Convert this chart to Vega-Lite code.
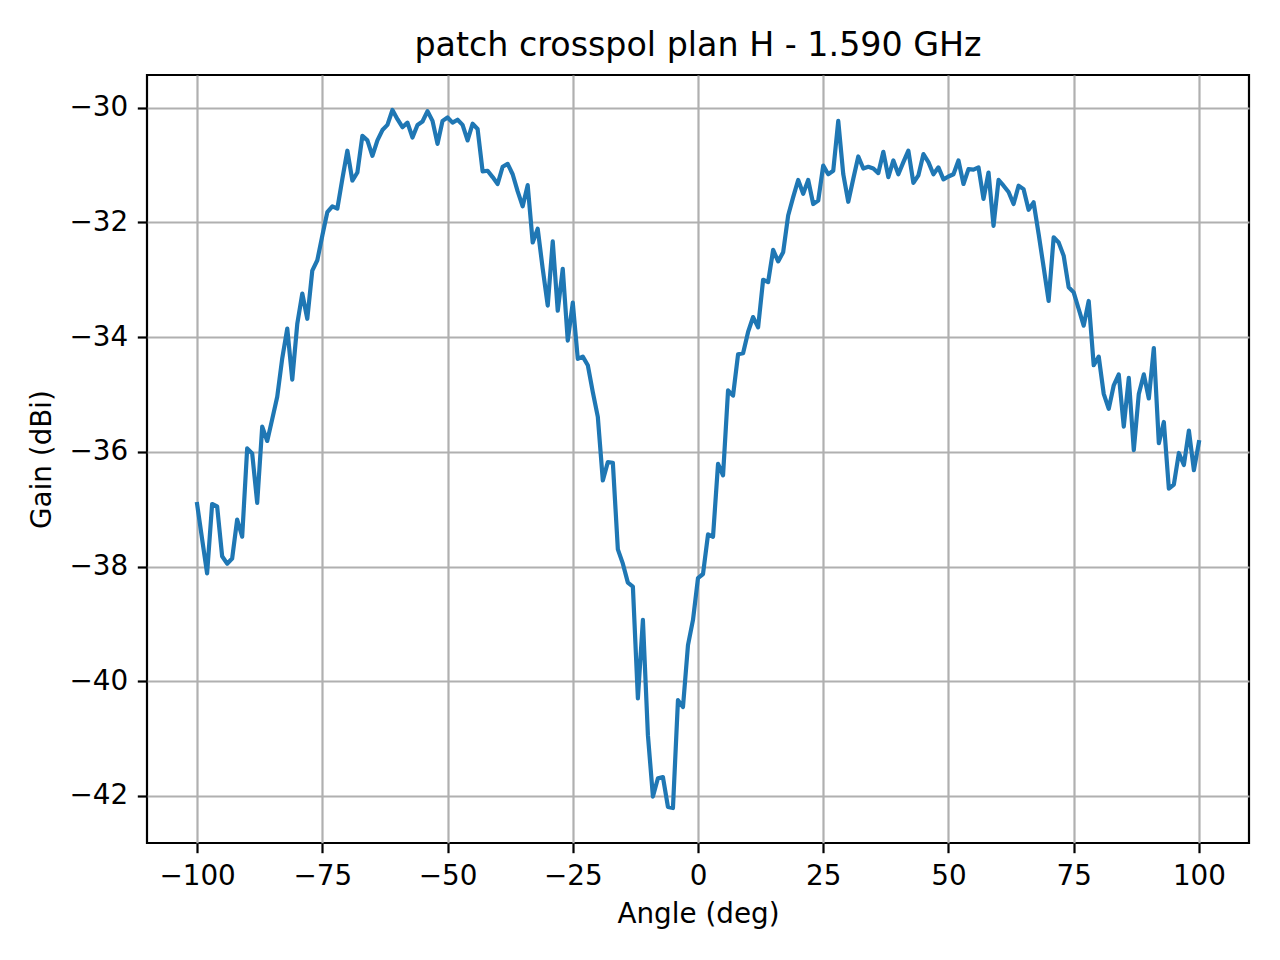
{
  "$schema": "https://vega.github.io/schema/vega-lite/v6.json",
  "autosize": {"type": "none"},
  "padding": {"left": 147, "top": 75, "right": 31, "bottom": 117},
  "width": 1102,
  "height": 768,
  "background": "white",
  "title": {
    "text": "patch crosspol plan H - 1.590 GHz",
    "font": "DejaVu Sans",
    "fontSize": 33.3,
    "fontWeight": "normal",
    "color": "black",
    "baseline": "alphabetic",
    "offset": -14
  },
  "config": {
    "view": {"stroke": "black", "strokeWidth": 2.2},
    "axis": {
      "labelFont": "DejaVu Sans",
      "labelFontSize": 27.8,
      "labelColor": "black",
      "titleFont": "DejaVu Sans",
      "titleFontSize": 27.8,
      "titleFontWeight": "normal",
      "titleColor": "black",
      "tickColor": "black",
      "tickSize": 9.7,
      "tickWidth": 2.2,
      "labelPadding": 9.7,
      "domain": false,
      "grid": true,
      "gridColor": "#b0b0b0",
      "gridWidth": 2.2
    }
  },
  "data": {
    "values": [
      {"angle": -100, "gain": -36.91}, {"angle": -99, "gain": -37.52}, {"angle": -98, "gain": -38.12},
      {"angle": -97, "gain": -36.91}, {"angle": -96, "gain": -36.95}, {"angle": -95, "gain": -37.82},
      {"angle": -94, "gain": -37.95}, {"angle": -93, "gain": -37.86}, {"angle": -92, "gain": -37.18},
      {"angle": -91, "gain": -37.48}, {"angle": -90, "gain": -35.94}, {"angle": -89, "gain": -36.03},
      {"angle": -88, "gain": -36.89}, {"angle": -87, "gain": -35.56}, {"angle": -86, "gain": -35.81},
      {"angle": -85, "gain": -35.43}, {"angle": -84, "gain": -35.04}, {"angle": -83, "gain": -34.37},
      {"angle": -82, "gain": -33.85}, {"angle": -81, "gain": -34.74}, {"angle": -80, "gain": -33.77},
      {"angle": -79, "gain": -33.24}, {"angle": -78, "gain": -33.68}, {"angle": -77, "gain": -32.84},
      {"angle": -76, "gain": -32.66}, {"angle": -75, "gain": -32.23}, {"angle": -74, "gain": -31.82},
      {"angle": -73, "gain": -31.72}, {"angle": -72, "gain": -31.76}, {"angle": -71, "gain": -31.24},
      {"angle": -70, "gain": -30.75}, {"angle": -69, "gain": -31.27}, {"angle": -68, "gain": -31.13},
      {"angle": -67, "gain": -30.49}, {"angle": -66, "gain": -30.57}, {"angle": -65, "gain": -30.84},
      {"angle": -64, "gain": -30.57}, {"angle": -63, "gain": -30.39}, {"angle": -62, "gain": -30.3},
      {"angle": -61, "gain": -30.04}, {"angle": -60, "gain": -30.2}, {"angle": -59, "gain": -30.34},
      {"angle": -58, "gain": -30.26}, {"angle": -57, "gain": -30.52}, {"angle": -56, "gain": -30.3},
      {"angle": -55, "gain": -30.24}, {"angle": -54, "gain": -30.06}, {"angle": -53, "gain": -30.23},
      {"angle": -52, "gain": -30.63}, {"angle": -51, "gain": -30.23}, {"angle": -50, "gain": -30.17},
      {"angle": -49, "gain": -30.26}, {"angle": -48, "gain": -30.21}, {"angle": -47, "gain": -30.3},
      {"angle": -46, "gain": -30.57}, {"angle": -45, "gain": -30.28}, {"angle": -44, "gain": -30.37},
      {"angle": -43, "gain": -31.11}, {"angle": -42, "gain": -31.1}, {"angle": -41, "gain": -31.21},
      {"angle": -40, "gain": -31.33}, {"angle": -39, "gain": -31.03}, {"angle": -38, "gain": -30.98},
      {"angle": -37, "gain": -31.16}, {"angle": -36, "gain": -31.46}, {"angle": -35, "gain": -31.72},
      {"angle": -34, "gain": -31.35}, {"angle": -33, "gain": -32.35}, {"angle": -32, "gain": -32.11},
      {"angle": -31, "gain": -32.81}, {"angle": -30, "gain": -33.45}, {"angle": -29, "gain": -32.33},
      {"angle": -28, "gain": -33.54}, {"angle": -27, "gain": -32.81}, {"angle": -26, "gain": -34.06},
      {"angle": -25, "gain": -33.4}, {"angle": -24, "gain": -34.38}, {"angle": -23, "gain": -34.34},
      {"angle": -22, "gain": -34.49}, {"angle": -21, "gain": -34.96}, {"angle": -20, "gain": -35.39},
      {"angle": -19, "gain": -36.5}, {"angle": -18, "gain": -36.18}, {"angle": -17, "gain": -36.19},
      {"angle": -16, "gain": -37.7}, {"angle": -15, "gain": -37.95}, {"angle": -14, "gain": -38.28},
      {"angle": -13, "gain": -38.35}, {"angle": -12, "gain": -40.3}, {"angle": -11, "gain": -38.93},
      {"angle": -10, "gain": -40.94}, {"angle": -9, "gain": -42.01}, {"angle": -8, "gain": -41.69},
      {"angle": -7, "gain": -41.67}, {"angle": -6, "gain": -42.19}, {"angle": -5, "gain": -42.21},
      {"angle": -4, "gain": -40.33}, {"angle": -3, "gain": -40.45}, {"angle": -2, "gain": -39.37},
      {"angle": -1, "gain": -38.93}, {"angle": 0, "gain": -38.2}, {"angle": 1, "gain": -38.13},
      {"angle": 2, "gain": -37.44}, {"angle": 3, "gain": -37.48}, {"angle": 4, "gain": -36.21},
      {"angle": 5, "gain": -36.41}, {"angle": 6, "gain": -34.93}, {"angle": 7, "gain": -35.02},
      {"angle": 8, "gain": -34.3}, {"angle": 9, "gain": -34.28}, {"angle": 10, "gain": -33.91},
      {"angle": 11, "gain": -33.65}, {"angle": 12, "gain": -33.83}, {"angle": 13, "gain": -33.0},
      {"angle": 14, "gain": -33.04}, {"angle": 15, "gain": -32.48}, {"angle": 16, "gain": -32.68},
      {"angle": 17, "gain": -32.52}, {"angle": 18, "gain": -31.88}, {"angle": 19, "gain": -31.56},
      {"angle": 20, "gain": -31.26}, {"angle": 21, "gain": -31.5}, {"angle": 22, "gain": -31.26},
      {"angle": 23, "gain": -31.68}, {"angle": 24, "gain": -31.62}, {"angle": 25, "gain": -31.01},
      {"angle": 26, "gain": -31.16}, {"angle": 27, "gain": -31.1}, {"angle": 28, "gain": -30.23},
      {"angle": 29, "gain": -31.16}, {"angle": 30, "gain": -31.64}, {"angle": 31, "gain": -31.24},
      {"angle": 32, "gain": -30.85}, {"angle": 33, "gain": -31.06}, {"angle": 34, "gain": -31.03},
      {"angle": 35, "gain": -31.06}, {"angle": 36, "gain": -31.14}, {"angle": 37, "gain": -30.77},
      {"angle": 38, "gain": -31.21}, {"angle": 39, "gain": -30.92}, {"angle": 40, "gain": -31.16},
      {"angle": 41, "gain": -30.95}, {"angle": 42, "gain": -30.75}, {"angle": 43, "gain": -31.31},
      {"angle": 44, "gain": -31.18}, {"angle": 45, "gain": -30.81}, {"angle": 46, "gain": -30.95},
      {"angle": 47, "gain": -31.16}, {"angle": 48, "gain": -31.04}, {"angle": 49, "gain": -31.25},
      {"angle": 50, "gain": -31.2}, {"angle": 51, "gain": -31.16}, {"angle": 52, "gain": -30.92},
      {"angle": 53, "gain": -31.33}, {"angle": 54, "gain": -31.07}, {"angle": 55, "gain": -31.08},
      {"angle": 56, "gain": -31.04}, {"angle": 57, "gain": -31.59}, {"angle": 58, "gain": -31.13},
      {"angle": 59, "gain": -32.06}, {"angle": 60, "gain": -31.26}, {"angle": 61, "gain": -31.36},
      {"angle": 62, "gain": -31.47}, {"angle": 63, "gain": -31.68}, {"angle": 64, "gain": -31.36},
      {"angle": 65, "gain": -31.42}, {"angle": 66, "gain": -31.78}, {"angle": 67, "gain": -31.65},
      {"angle": 68, "gain": -32.2}, {"angle": 69, "gain": -32.78}, {"angle": 70, "gain": -33.37},
      {"angle": 71, "gain": -32.26}, {"angle": 72, "gain": -32.35}, {"angle": 73, "gain": -32.58},
      {"angle": 74, "gain": -33.13}, {"angle": 75, "gain": -33.22}, {"angle": 76, "gain": -33.51},
      {"angle": 77, "gain": -33.8}, {"angle": 78, "gain": -33.37}, {"angle": 79, "gain": -34.49},
      {"angle": 80, "gain": -34.34}, {"angle": 81, "gain": -34.99}, {"angle": 82, "gain": -35.25},
      {"angle": 83, "gain": -34.84}, {"angle": 84, "gain": -34.65}, {"angle": 85, "gain": -35.56},
      {"angle": 86, "gain": -34.71}, {"angle": 87, "gain": -35.97}, {"angle": 88, "gain": -34.99},
      {"angle": 89, "gain": -34.65}, {"angle": 90, "gain": -35.07}, {"angle": 91, "gain": -34.19},
      {"angle": 92, "gain": -35.85}, {"angle": 93, "gain": -35.48}, {"angle": 94, "gain": -36.64},
      {"angle": 95, "gain": -36.57}, {"angle": 96, "gain": -36.02}, {"angle": 97, "gain": -36.23},
      {"angle": 98, "gain": -35.63}, {"angle": 99, "gain": -36.32}, {"angle": 100, "gain": -35.83}
    ]
  },
  "mark": {
    "type": "line",
    "color": "#1f77b4",
    "strokeWidth": 4.2,
    "strokeJoin": "round",
    "strokeCap": "square"
  },
  "encoding": {
    "x": {
      "field": "angle",
      "type": "quantitative",
      "title": "Angle (deg)",
      "scale": {"domain": [-110, 110], "nice": false, "zero": false},
      "axis": {
        "values": [-100, -75, -50, -25, 0, 25, 50, 75, 100],
        "labelExpr": "replace(datum.label, '-', '−')",
        "titlePadding": 10
      }
    },
    "y": {
      "field": "gain",
      "type": "quantitative",
      "title": "Gain (dBi)",
      "scale": {"domain": [-42.82, -29.43], "nice": false, "zero": false},
      "axis": {
        "values": [-42, -40, -38, -36, -34, -32, -30],
        "labelExpr": "replace(datum.label, '-', '−')",
        "titlePadding": 12
      }
    }
  }
}
